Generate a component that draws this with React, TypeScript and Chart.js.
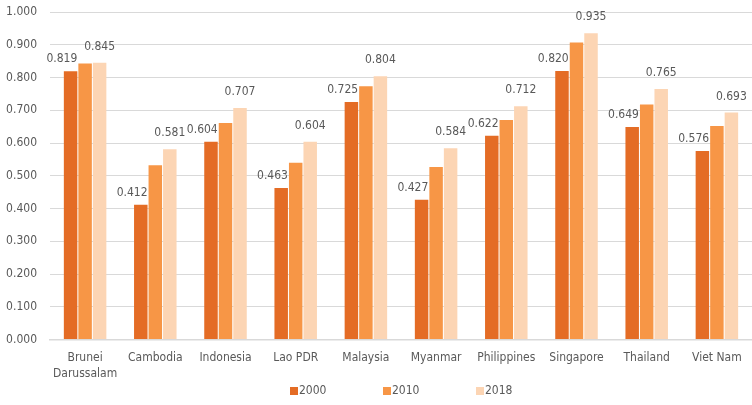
import React, { useEffect, useRef } from "react";
import { Chart, registerables } from "chart.js";

Chart.register(...registerables);

const categories: (string | string[])[] = [
  ["Brunei", "Darussalam"],
  "Cambodia",
  "Indonesia",
  "Lao PDR",
  "Malaysia",
  "Myanmar",
  "Philippines",
  "Singapore",
  "Thailand",
  "Viet Nam",
];

const series2000 = [0.819, 0.412, 0.604, 0.463, 0.725, 0.427, 0.622, 0.82, 0.649, 0.576];
const series2010 = [0.843, 0.532, 0.661, 0.54, 0.773, 0.527, 0.67, 0.907, 0.718, 0.652];
const series2018 = [0.845, 0.581, 0.707, 0.604, 0.804, 0.584, 0.712, 0.935, 0.765, 0.693];

const seriesNames = ["2000", "2010", "2018"];
const colors = ["#E46C25", "#F79646", "#FCD5B4"];

const FONT = "'DejaVu Sans Condensed', 'DejaVu Sans', sans-serif";
const TEXT = "#595959";

const labelPlugin = {
  id: "valueLabels",
  afterDatasetsDraw(chart: any) {
    const ctx = chart.ctx;
    ctx.save();
    ctx.font = `12px ${FONT}`;
    ctx.fillStyle = TEXT;
    ctx.textBaseline = "middle";
    [0, 2].forEach((di) => {
      const meta = chart.getDatasetMeta(di);
      const data = chart.data.datasets[di].data as number[];
      meta.data.forEach((bar: any, i: number) => {
        const txt = data[i].toFixed(3);
        if (di === 0) {
          ctx.textAlign = "right";
          ctx.fillText(txt, bar.x + bar.width / 2, bar.y - 12);
        } else {
          ctx.textAlign = "center";
          ctx.fillText(txt, bar.x, bar.y - 16);
        }
      });
    });
    ctx.restore();
  },
};

const legendPlugin = {
  id: "customLegend",
  afterDraw(chart: any) {
    const ctx = chart.ctx;
    const area = chart.chartArea;
    const step = 93;
    const n = chart.data.datasets.length;
    const totalW = step * (n - 1) + 36;
    const startX = (area.left + area.right) / 2 - totalW / 2;
    const cy = 391;
    ctx.save();
    ctx.font = `12px ${FONT}`;
    ctx.textBaseline = "middle";
    ctx.textAlign = "left";
    chart.data.datasets.forEach((ds: any, i: number) => {
      const x = startX + i * step;
      ctx.fillStyle = ds.backgroundColor;
      ctx.fillRect(x, cy - 4, 8, 8);
      ctx.fillStyle = TEXT;
      ctx.fillText(ds.label, x + 9, cy);
    });
    ctx.restore();
  },
};

export default function App() {
  const ref = useRef<HTMLCanvasElement | null>(null);
  useEffect(() => {
    if (!ref.current) return;
    const seriesData = [series2000, series2010, series2018];
    const chart = new Chart(ref.current, {
      type: "bar",
      data: {
        labels: categories,
        datasets: seriesNames.map((n, i) => ({
          label: n,
          data: seriesData[i],
          backgroundColor: colors[i],
          barPercentage: 0.93,
          categoryPercentage: 0.62,
        })),
      },
      options: {
        animation: false,
        responsive: false,
        devicePixelRatio: 1,
        layout: { padding: { top: 12, right: 0, left: 0, bottom: 21 } },
        plugins: {
          tooltip: { enabled: false },
          legend: { display: false },
        },
        scales: {
          x: {
            grid: { display: false },
            border: { display: true, color: "#D9D9D9", width: 1.5 },
            ticks: {
              color: TEXT,
              font: { family: FONT, size: 12, lineHeight: 1.35 },
              padding: 2,
              maxRotation: 0,
              autoSkip: false,
            },
            afterFit: (s: any) => {
              s.paddingLeft = 0;
              s.paddingRight = 0;
            },
          },
          y: {
            min: 0,
            max: 1,
            afterFit: (s: any) => {
              s.width = 50;
              s.paddingTop = 0;
              s.paddingBottom = 0;
            },
            grid: { color: "#D9D9D9", lineWidth: 1, drawTicks: false },
            border: { display: false },
            ticks: {
              stepSize: 0.1,
              padding: 13,
              color: TEXT,
              font: { family: FONT, size: 12 },
              callback: (v: any) => Number(v).toFixed(3),
            },
          },
        },
      },
      plugins: [labelPlugin, legendPlugin],
    });
    return () => chart.destroy();
  }, []);
  return (
    <div style={{ position: "absolute", left: 0, top: 0, width: 752, height: 405 }}>
      <canvas ref={ref} width={752} height={405} style={{ width: 752, height: 405 }} />
    </div>
  );
}
